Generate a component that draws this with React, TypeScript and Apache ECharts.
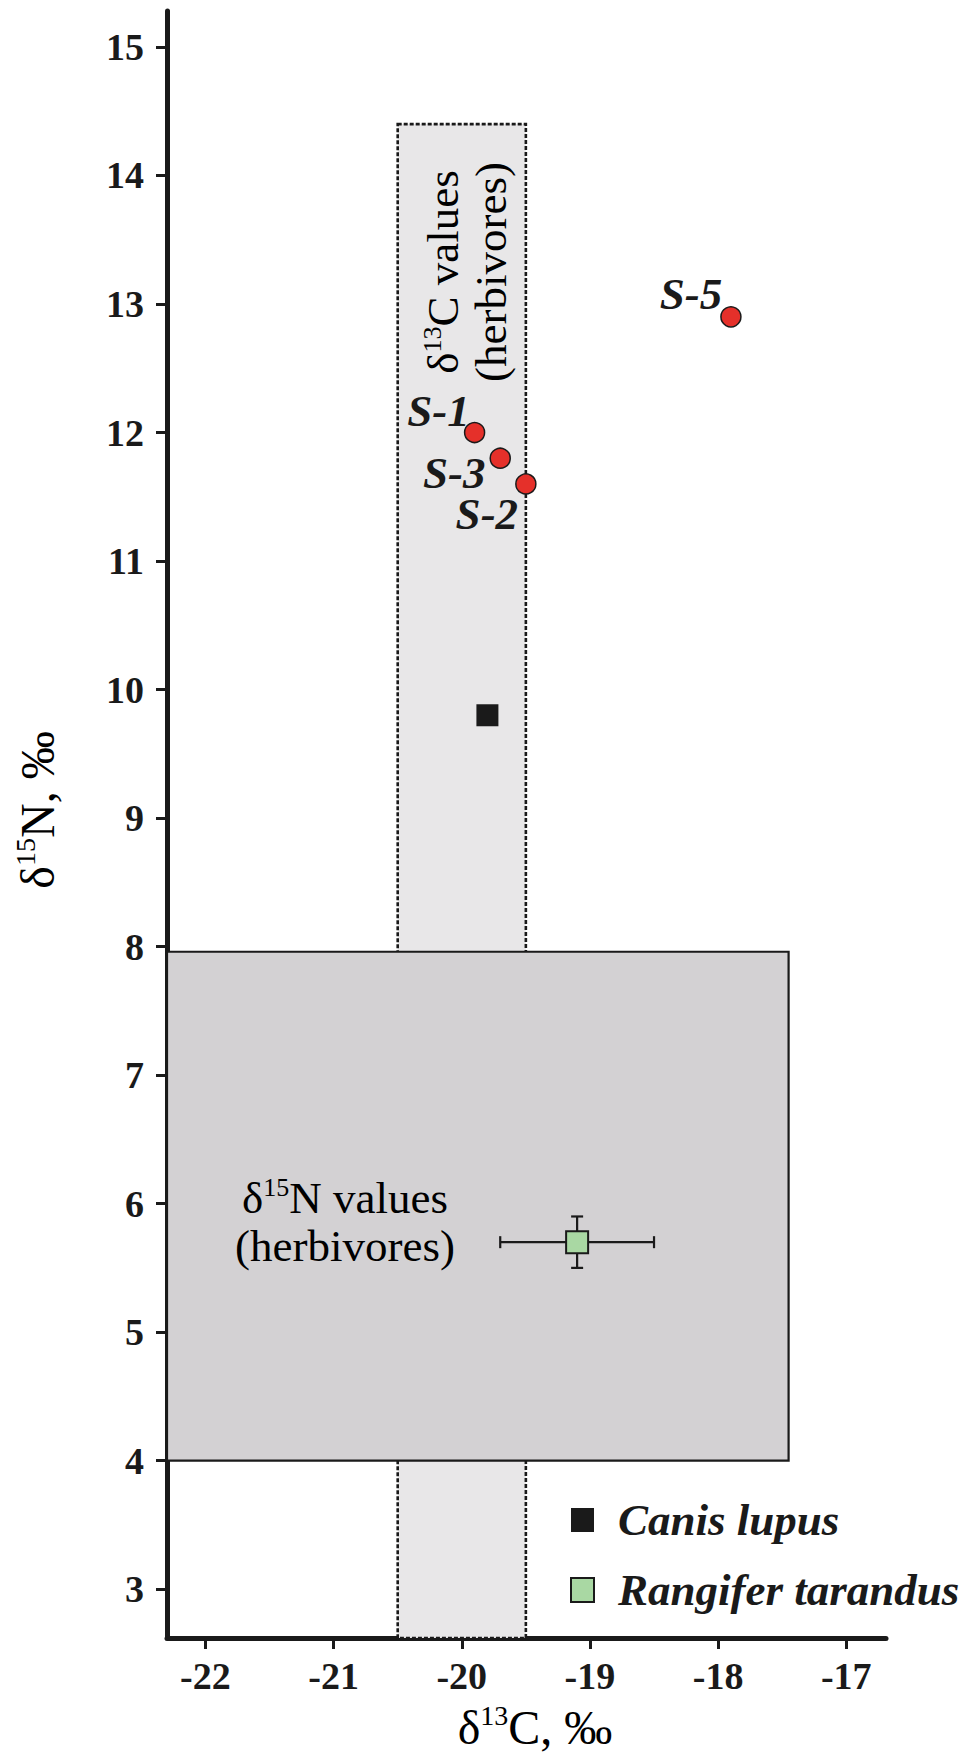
import React, { useEffect, useRef } from "react";
import * as echarts from "echarts";

// ---- axes ----
const X_MIN = -22.3;
const X_MAX = -16.69;
const Y_MIN = 2.62;
const Y_MAX = 15.28;
const X_TICKS = [-22, -21, -20, -19, -18, -17];
const Y_TICKS = [3, 4, 5, 6, 7, 8, 9, 10, 11, 12, 13, 14, 15];

// ---- samples (red dots) ----
const SAMPLE_NAMES = ["S-1", "S-2", "S-3", "S-5"];
const SAMPLE_C13 = [-19.9, -19.5, -19.7, -17.9];
const SAMPLE_N15 = [12.0, 11.6, 11.8, 12.9];

// ---- Canis lupus ----
const CANIS_C13 = [-19.8];
const CANIS_N15 = [9.8];

// ---- Rangifer tarandus (mean ± sd) ----
const RANGIFER_C13 = [-19.1];
const RANGIFER_N15 = [5.7];
const RANGIFER_C13_SD = [0.6];
const RANGIFER_N15_SD = [0.2];

// ---- herbivore ranges ----
const HERB_C13_X = [-20.5, -19.5];
const HERB_C13_Y = [Y_MIN, 14.4];
const HERB_N15_X = [X_MIN, -17.45];
const HERB_N15_Y = [4.0, 7.96];

// label offsets (styling, px)
const LABEL_OFFSETS: Record<string, [number, number]> = {
  "S-1": [-36, -22],
  "S-2": [-39, 30],
  "S-3": [-46, 15],
  "S-5": [-40, -23],
};

const SERIF = "'Liberation Serif', 'Times New Roman', Times, serif";
const INK = "#1a1a1a";

export default function App() {
  const ref = useRef<HTMLDivElement>(null);

  useEffect(() => {
    if (!ref.current) return;
    const chart = echarts.init(ref.current, undefined, { renderer: "svg" });

    const rectItem = (fill: string, dash: number[] | null, lw: number) =>
      (params: any, api: any) => {
        const p1 = api.coord([api.value(0), api.value(3)]);
        const p2 = api.coord([api.value(1), api.value(2)]);
        return {
          type: "rect",
          shape: { x: p1[0], y: p1[1], width: p2[0] - p1[0], height: p2[1] - p1[1] },
          style: {
            fill,
            stroke: INK,
            lineWidth: lw,
            lineDash: dash || undefined,
          },
        };
      };

    const supRich = (size: number, sup: number, color: string) => ({
      n: { fontSize: size, fontFamily: SERIF, color, lineHeight: size + 3 },
      s: { fontSize: sup, fontFamily: SERIF, color, lineHeight: sup + 2, verticalAlign: "top" },
    });

    const tickLabel = {
      fontSize: 38,
      fontWeight: "bold",
      fontFamily: SERIF,
      color: INK,
    };

    const option: any = {
      animation: false,
      backgroundColor: "#ffffff",
      grid: { left: 167, right: 76, top: 11, bottom: 116 },
      xAxis: {
        type: "value",
        min: X_MIN,
        max: X_MAX,
        splitLine: { show: false },
        axisLine: { show: true, onZero: false, lineStyle: { color: INK, width: 5 } },
        axisTick: { show: true, length: 11, customValues: X_TICKS, lineStyle: { color: INK, width: 3 } },
        axisLabel: { customValues: X_TICKS, margin: 19, ...tickLabel },
      },
      yAxis: {
        type: "value",
        min: Y_MIN,
        max: Y_MAX,
        splitLine: { show: false },
        axisLine: { show: true, onZero: false, lineStyle: { color: INK, width: 5 } },
        axisTick: { show: true, length: 11, customValues: Y_TICKS, lineStyle: { color: INK, width: 3 } },
        axisLabel: { customValues: Y_TICKS, margin: 23, ...tickLabel },
      },
      legend: {
        data: ["Canis lupus", "Rangifer tarandus"],
        orient: "vertical",
        left: 565,
        top: 1491,
        itemWidth: 23,
        itemHeight: 24,
        itemGap: 22,
        textStyle: {
          fontSize: 45,
          fontStyle: "italic",
          fontWeight: "bold",
          fontFamily: SERIF,
          color: INK,
          lineHeight: 48,
          padding: [0, 0, 0, 19],
        },
      },
      graphic: [
        {
          type: "text",
          x: 37,
          y: 810,
          rotation: Math.PI / 2,
          style: {
            text: "{n|δ}{s|15}{n|N, ‰}",
            align: "center",
            verticalAlign: "middle",
            rich: supRich(48, 28, INK),
          },
        },
        {
          type: "text",
          x: 535,
          y: 1727,
          style: {
            text: "{n|δ}{s|13}{n|C, ‰}",
            align: "center",
            verticalAlign: "middle",
            rich: supRich(48, 28, INK),
          },
          z: 10,
        },
        {
          type: "text",
          x: 467,
          y: 272,
          rotation: Math.PI / 2,
          z: 10,
          style: {
            text: "{n|δ}{s|13}{n|C values}\n{n|(herbivores)}",
            align: "center",
            verticalAlign: "middle",
            rich: supRich(45, 26, "#2a2a2a"),
          },
        },
        {
          type: "text",
          x: 345,
          y: 1222,
          z: 10,
          style: {
            text: "{n|δ}{s|15}{n|N values}\n{n|(herbivores)}",
            align: "center",
            verticalAlign: "middle",
            rich: supRich(45, 26, "#2a2a2a"),
          },
        },
      ],
      series: [
        {
          name: "δ13C herbivores",
          type: "custom",
          z: 1,
          renderItem: rectItem("#e8e7e8", [4, 2], 2.6),
          encode: { x: [0, 1], y: [2, 3] },
          data: [[HERB_C13_X[0], HERB_C13_X[1], HERB_C13_Y[0], HERB_C13_Y[1]]],
          silent: true,
        },
        {
          name: "δ15N herbivores",
          type: "custom",
          z: 2,
          renderItem: rectItem("#d3d1d3", null, 2.2),
          encode: { x: [0, 1], y: [2, 3] },
          data: [[HERB_N15_X[0], HERB_N15_X[1], HERB_N15_Y[0], HERB_N15_Y[1]]],
          silent: true,
        },
        {
          name: "Rangifer error",
          type: "custom",
          z: 3,
          silent: true,
          encode: { x: [0, 2, 3], y: [1, 4, 5] },
          data: RANGIFER_C13.map((c, i) => [
            c,
            RANGIFER_N15[i],
            c - RANGIFER_C13_SD[i],
            c + RANGIFER_C13_SD[i],
            RANGIFER_N15[i] - RANGIFER_N15_SD[i],
            RANGIFER_N15[i] + RANGIFER_N15_SD[i],
          ]),
          renderItem: (params: any, api: any) => {
            const c = api.coord([api.value(0), api.value(1)]);
            const l = api.coord([api.value(2), api.value(1)]);
            const r = api.coord([api.value(3), api.value(1)]);
            const b = api.coord([api.value(0), api.value(4)]);
            const t = api.coord([api.value(0), api.value(5)]);
            const st = { stroke: INK, lineWidth: 2.2 };
            const cap = 6;
            return {
              type: "group",
              children: [
                { type: "line", shape: { x1: l[0], y1: c[1], x2: r[0], y2: c[1] }, style: st },
                { type: "line", shape: { x1: l[0], y1: c[1] - cap, x2: l[0], y2: c[1] + cap }, style: st },
                { type: "line", shape: { x1: r[0], y1: c[1] - cap, x2: r[0], y2: c[1] + cap }, style: st },
                { type: "line", shape: { x1: c[0], y1: t[1], x2: c[0], y2: b[1] }, style: st },
                { type: "line", shape: { x1: c[0] - cap, y1: t[1], x2: c[0] + cap, y2: t[1] }, style: st },
                { type: "line", shape: { x1: c[0] - cap, y1: b[1], x2: c[0] + cap, y2: b[1] }, style: st },
              ],
            };
          },
        },
        {
          name: "Rangifer tarandus",
          type: "scatter",
          z: 4,
          symbol: "rect",
          symbolSize: 22,
          itemStyle: { color: "#a9d8a3", borderColor: INK, borderWidth: 2, opacity: 1 },
          data: RANGIFER_C13.map((c, i) => [c, RANGIFER_N15[i]]),
        },
        {
          name: "Canis lupus",
          type: "scatter",
          z: 4,
          symbol: "rect",
          symbolSize: 22,
          itemStyle: { color: INK, opacity: 1 },
          data: CANIS_C13.map((c, i) => [c, CANIS_N15[i]]),
        },
        {
          name: "Samples",
          type: "scatter",
          z: 5,
          symbol: "circle",
          symbolSize: 20,
          itemStyle: { color: "#e5302a", borderColor: INK, borderWidth: 1.5, opacity: 1 },
          data: SAMPLE_NAMES.map((n, i) => ({
            name: n,
            value: [SAMPLE_C13[i], SAMPLE_N15[i]],
            label: { offset: LABEL_OFFSETS[n] },
          })),
          label: {
            show: true,
            position: "inside",
            formatter: (p: any) => p.name,
            fontSize: 45,
            fontStyle: "italic",
            fontWeight: "bold",
            fontFamily: SERIF,
            color: INK,
            opacity: 1,
          },
        },
      ],
    };

    chart.setOption(option);
    return () => chart.dispose();
  }, []);

  return (
    <div
      ref={ref}
      style={{ position: "absolute", left: 0, top: 0, width: 962, height: 1754, background: "#fff" }}
    />
  );
}
